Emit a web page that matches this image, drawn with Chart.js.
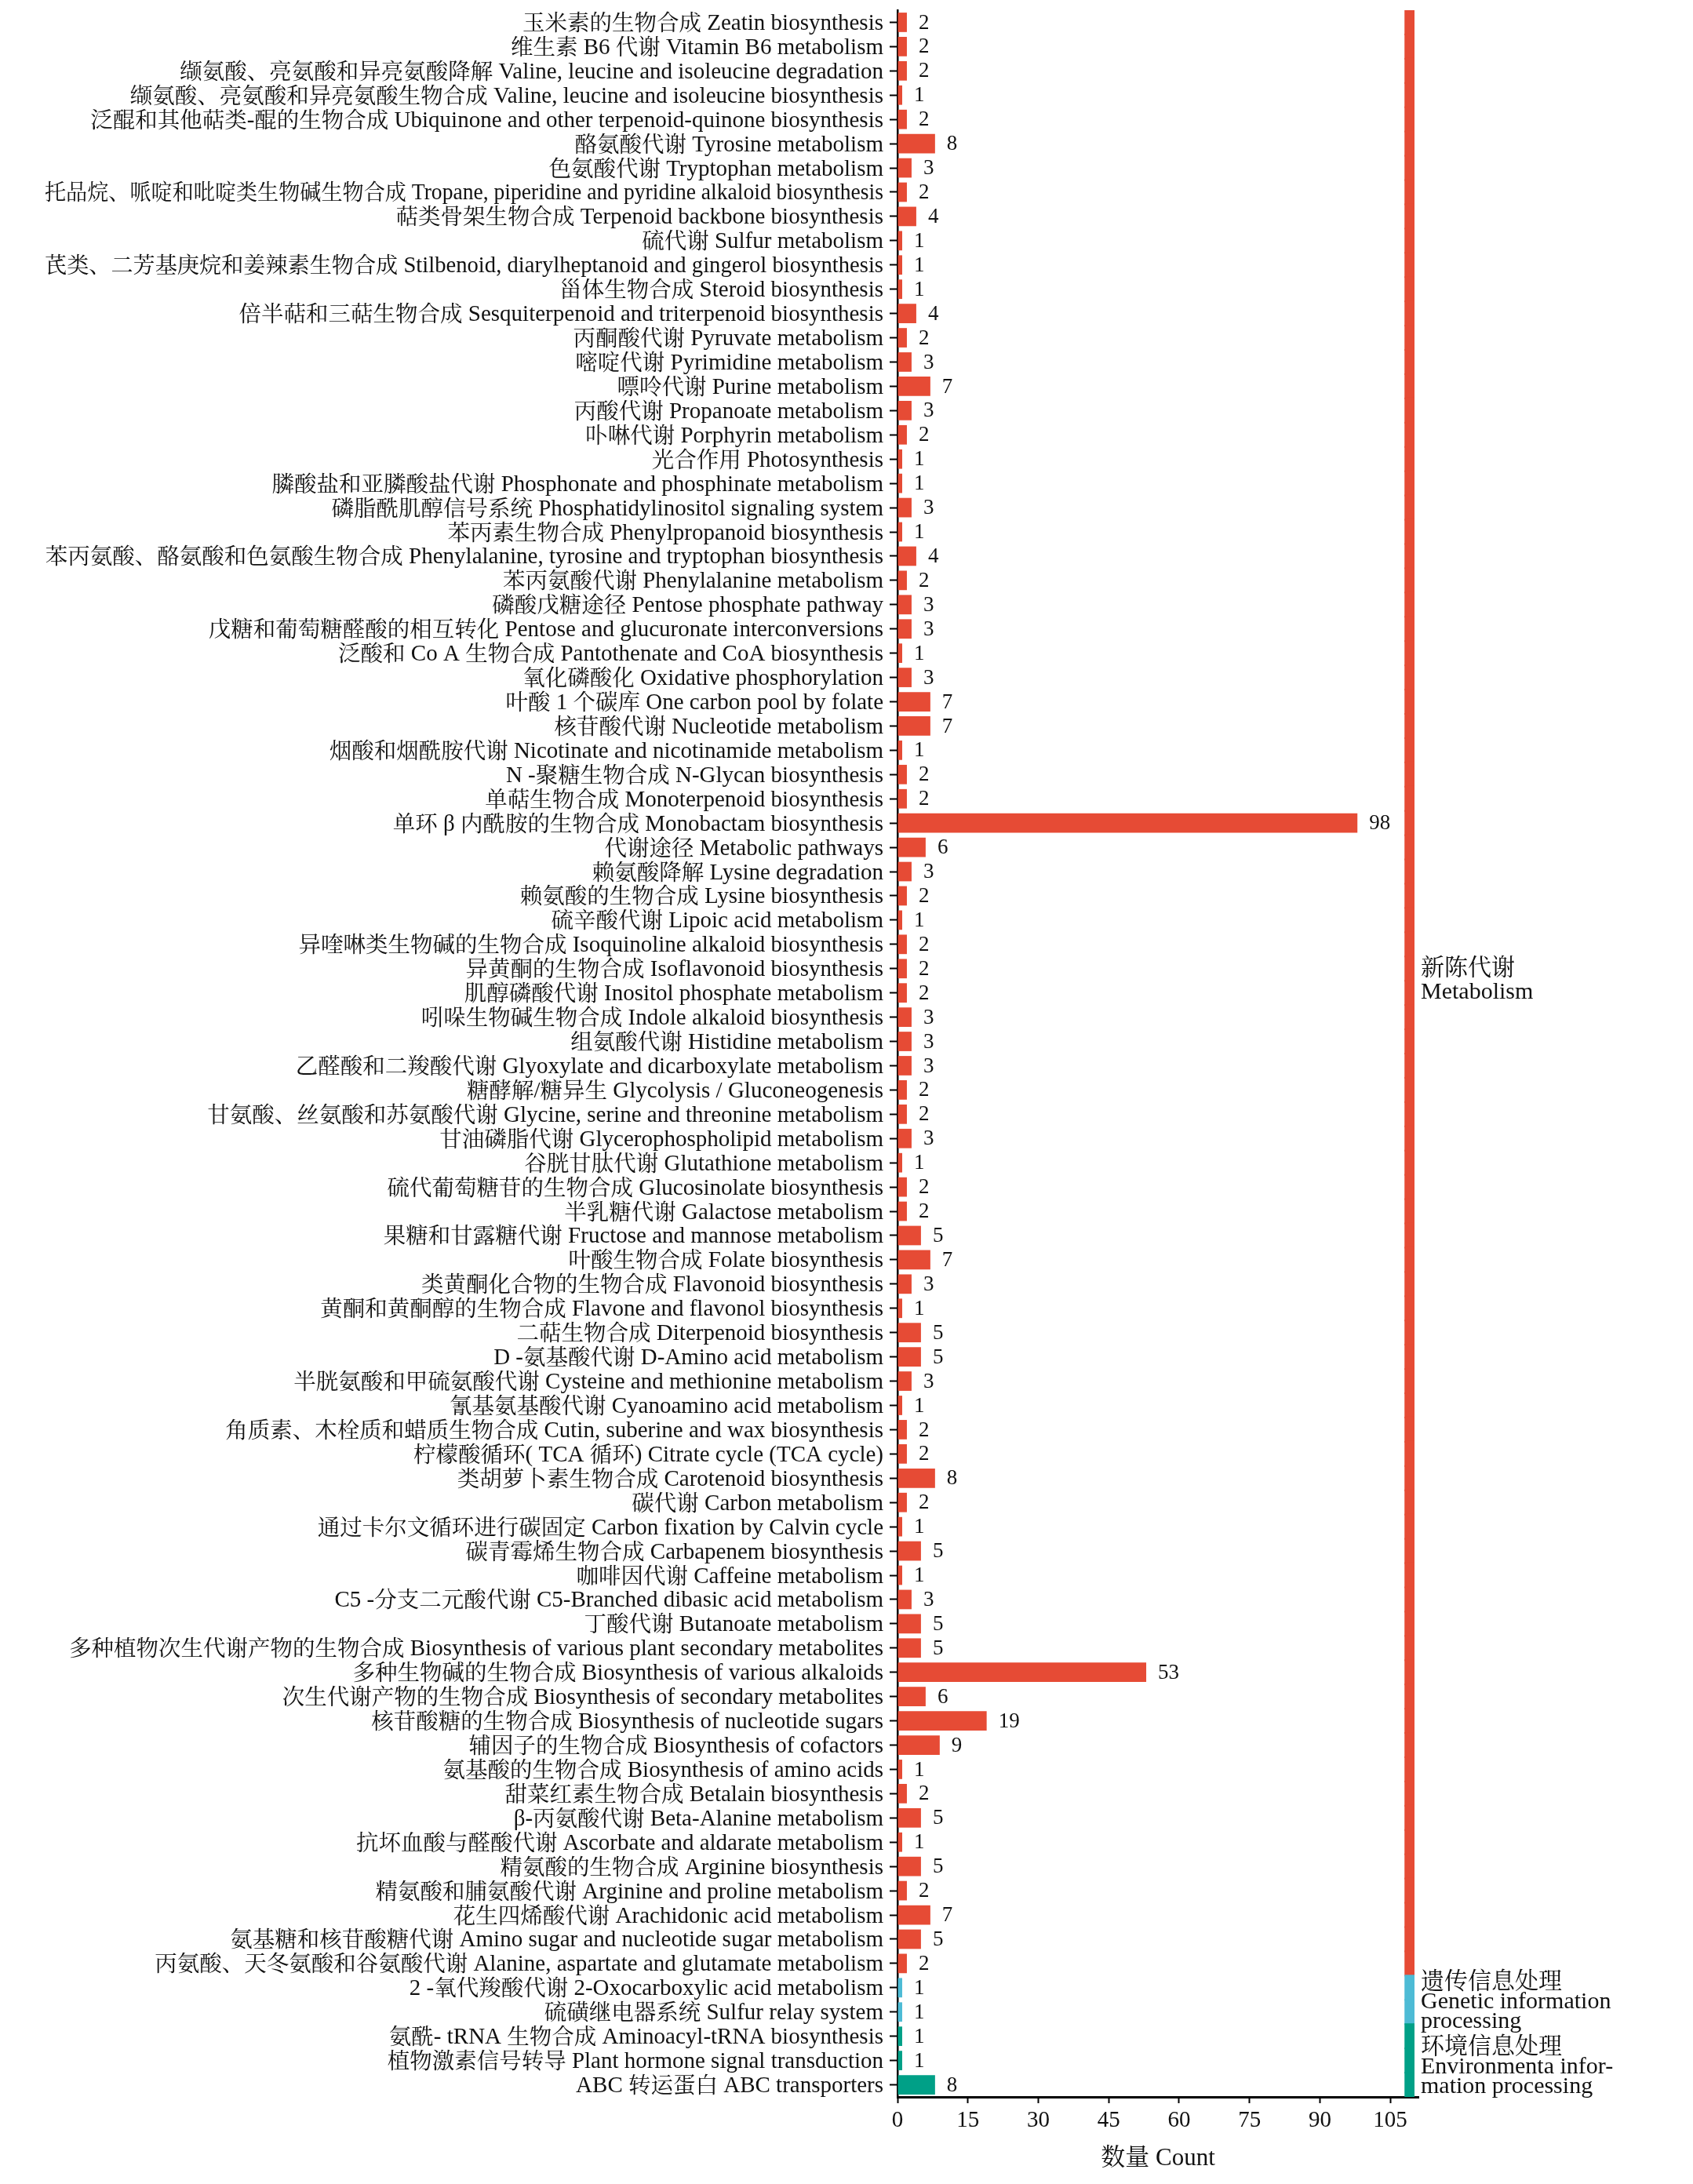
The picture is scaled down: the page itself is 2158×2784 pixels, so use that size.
<!DOCTYPE html>
<html><head><meta charset="utf-8">
<script src="https://cdn.jsdelivr.net/npm/chart.js@4.4.1/dist/chart.umd.min.js"></script>
<style>html,body{margin:0;padding:0;background:#fff;}canvas{display:block;}</style>
</head><body>
<canvas id="c" width="2158" height="2784" style="width:2158px;height:2784px"></canvas>
<script>
const categories = [
"玉米素的生物合成 Zeatin biosynthesis",
"维生素 B6 代谢 Vitamin B6 metabolism",
"缬氨酸、亮氨酸和异亮氨酸降解 Valine, leucine and isoleucine degradation",
"缬氨酸、亮氨酸和异亮氨酸生物合成 Valine, leucine and isoleucine biosynthesis",
"泛醌和其他萜类-醌的生物合成 Ubiquinone and other terpenoid-quinone biosynthesis",
"酪氨酸代谢 Tyrosine metabolism",
"色氨酸代谢 Tryptophan metabolism",
"托品烷、哌啶和吡啶类生物碱生物合成 Tropane, piperidine and pyridine alkaloid biosynthesis",
"萜类骨架生物合成 Terpenoid backbone biosynthesis",
"硫代谢 Sulfur metabolism",
"芪类、二芳基庚烷和姜辣素生物合成 Stilbenoid, diarylheptanoid and gingerol biosynthesis",
"甾体生物合成 Steroid biosynthesis",
"倍半萜和三萜生物合成 Sesquiterpenoid and triterpenoid biosynthesis",
"丙酮酸代谢 Pyruvate metabolism",
"嘧啶代谢 Pyrimidine metabolism",
"嘌呤代谢 Purine metabolism",
"丙酸代谢 Propanoate metabolism",
"卟啉代谢 Porphyrin metabolism",
"光合作用 Photosynthesis",
"膦酸盐和亚膦酸盐代谢 Phosphonate and phosphinate metabolism",
"磷脂酰肌醇信号系统 Phosphatidylinositol signaling system",
"苯丙素生物合成 Phenylpropanoid biosynthesis",
"苯丙氨酸、酪氨酸和色氨酸生物合成 Phenylalanine, tyrosine and tryptophan biosynthesis",
"苯丙氨酸代谢 Phenylalanine metabolism",
"磷酸戊糖途径 Pentose phosphate pathway",
"戊糖和葡萄糖醛酸的相互转化 Pentose and glucuronate interconversions",
"泛酸和 Co A 生物合成 Pantothenate and CoA biosynthesis",
"氧化磷酸化 Oxidative phosphorylation",
"叶酸 1 个碳库 One carbon pool by folate",
"核苷酸代谢 Nucleotide metabolism",
"烟酸和烟酰胺代谢 Nicotinate and nicotinamide metabolism",
"N -聚糖生物合成 N-Glycan biosynthesis",
"单萜生物合成 Monoterpenoid biosynthesis",
"单环 β 内酰胺的生物合成 Monobactam biosynthesis",
"代谢途径 Metabolic pathways",
"赖氨酸降解 Lysine degradation",
"赖氨酸的生物合成 Lysine biosynthesis",
"硫辛酸代谢 Lipoic acid metabolism",
"异喹啉类生物碱的生物合成 Isoquinoline alkaloid biosynthesis",
"异黄酮的生物合成 Isoflavonoid biosynthesis",
"肌醇磷酸代谢 Inositol phosphate metabolism",
"吲哚生物碱生物合成 Indole alkaloid biosynthesis",
"组氨酸代谢 Histidine metabolism",
"乙醛酸和二羧酸代谢 Glyoxylate and dicarboxylate metabolism",
"糖酵解/糖异生 Glycolysis / Gluconeogenesis",
"甘氨酸、丝氨酸和苏氨酸代谢 Glycine, serine and threonine metabolism",
"甘油磷脂代谢 Glycerophospholipid metabolism",
"谷胱甘肽代谢 Glutathione metabolism",
"硫代葡萄糖苷的生物合成 Glucosinolate biosynthesis",
"半乳糖代谢 Galactose metabolism",
"果糖和甘露糖代谢 Fructose and mannose metabolism",
"叶酸生物合成 Folate biosynthesis",
"类黄酮化合物的生物合成 Flavonoid biosynthesis",
"黄酮和黄酮醇的生物合成 Flavone and flavonol biosynthesis",
"二萜生物合成 Diterpenoid biosynthesis",
"D -氨基酸代谢 D-Amino acid metabolism",
"半胱氨酸和甲硫氨酸代谢 Cysteine and methionine metabolism",
"氰基氨基酸代谢 Cyanoamino acid metabolism",
"角质素、木栓质和蜡质生物合成 Cutin, suberine and wax biosynthesis",
"柠檬酸循环( TCA 循环) Citrate cycle (TCA cycle)",
"类胡萝卜素生物合成 Carotenoid biosynthesis",
"碳代谢 Carbon metabolism",
"通过卡尔文循环进行碳固定 Carbon fixation by Calvin cycle",
"碳青霉烯生物合成 Carbapenem biosynthesis",
"咖啡因代谢 Caffeine metabolism",
"C5 -分支二元酸代谢 C5-Branched dibasic acid metabolism",
"丁酸代谢 Butanoate metabolism",
"多种植物次生代谢产物的生物合成 Biosynthesis of various plant secondary metabolites",
"多种生物碱的生物合成 Biosynthesis of various alkaloids",
"次生代谢产物的生物合成 Biosynthesis of secondary metabolites",
"核苷酸糖的生物合成 Biosynthesis of nucleotide sugars",
"辅因子的生物合成 Biosynthesis of cofactors",
"氨基酸的生物合成 Biosynthesis of amino acids",
"甜菜红素生物合成 Betalain biosynthesis",
"β-丙氨酸代谢 Beta-Alanine metabolism",
"抗坏血酸与醛酸代谢 Ascorbate and aldarate metabolism",
"精氨酸的生物合成 Arginine biosynthesis",
"精氨酸和脯氨酸代谢 Arginine and proline metabolism",
"花生四烯酸代谢 Arachidonic acid metabolism",
"氨基糖和核苷酸糖代谢 Amino sugar and nucleotide sugar metabolism",
"丙氨酸、天冬氨酸和谷氨酸代谢 Alanine, aspartate and glutamate metabolism",
"2 -氧代羧酸代谢 2-Oxocarboxylic acid metabolism",
"硫磺继电器系统 Sulfur relay system",
"氨酰- tRNA 生物合成 Aminoacyl-tRNA biosynthesis",
"植物激素信号转导 Plant hormone signal transduction",
"ABC 转运蛋白 ABC transporters"
];
const counts = [
2,2,2,1,2,8,3,2,4,1,
1,1,4,2,3,7,3,2,1,1,
3,1,4,2,3,3,1,3,7,7,
1,2,2,98,6,3,2,1,2,2,
2,3,3,3,2,2,3,1,2,2,
5,7,3,1,5,5,3,1,2,2,
8,2,1,5,1,3,5,5,53,6,
19,9,1,2,5,1,5,2,7,5,
2,1,1,1,1,8
];
const groups = [
"M","M","M","M","M","M","M","M","M","M",
"M","M","M","M","M","M","M","M","M","M",
"M","M","M","M","M","M","M","M","M","M",
"M","M","M","M","M","M","M","M","M","M",
"M","M","M","M","M","M","M","M","M","M",
"M","M","M","M","M","M","M","M","M","M",
"M","M","M","M","M","M","M","M","M","M",
"M","M","M","M","M","M","M","M","M","M",
"M","G","G","E","E","E"
];
const groupOrder = ["M","G","E"];
const groupLabels = {
  M: ["新陈代谢","Metabolism"],
  G: ["遗传信息处理","Genetic information","processing"],
  E: ["环境信息处理","Environmenta infor-","mation processing"]
};
const xTickValues = [0,15,30,45,60,75,90,105];
const xMax = 111;
const stripRange = [108.2, 110];

const groupColors = {M:"#E64B35", G:"#4DBBD5", E:"#00A087"};
const FONT = '"Liberation Serif", "Times New Roman", "Noto Serif CJK SC", "Noto Sans CJK SC", serif';
const CJK_FONT = '"Noto Serif CJK SC", "Noto Sans CJK SC", serif';
const LAT_PX = 29, CJK_PX = 28.5, LABEL_MAX_W = 1069;
const labelStyle = {
  M: {lineHeight: 30, offset: -16},
  G: {lineHeight: 25, offset: 3},
  E: {lineHeight: 25, offset: 9}
};

function splitRuns(s) {
  const runs = [];
  const re = /[\u3000-\u9fff\uff00-\uffef]/;
  for (const ch of s) {
    const cjk = re.test(ch);
    if (runs.length && runs[runs.length - 1].cjk === cjk) runs[runs.length - 1].t += ch;
    else runs.push({t: ch, cjk});
  }
  return runs;
}

const yLabels = {
  id: 'yLabels',
  afterDraw(chart) {
    const y = chart.scales.y;
    const ctx = chart.ctx;
    const right = chart.chartArea.left - 10 - 8;
    ctx.save();
    ctx.fillStyle = '#111';
    ctx.textAlign = 'left';
    ctx.textBaseline = 'alphabetic';
    categories.forEach((lab, i) => {
      const py = y.getPixelForValue(i);
      const runs = splitRuns(lab);
      let total = 0;
      runs.forEach(r => {
        ctx.font = r.cjk ? (CJK_PX + 'px ' + CJK_FONT) : (LAT_PX + 'px ' + FONT);
        r.w = ctx.measureText(r.t).width;
        total += r.w;
      });
      const sc = Math.min(1, LABEL_MAX_W / total);
      ctx.save();
      ctx.translate(right - total * sc, 0);
      ctx.scale(sc, 1);
      let x = 0;
      runs.forEach(r => {
        ctx.font = r.cjk ? (CJK_PX + 'px ' + CJK_FONT) : (LAT_PX + 'px ' + FONT);
        ctx.fillText(r.t, x, py + (r.cjk ? 10.5 : 9.5));
        x += r.w;
      });
      ctx.restore();
    });
    ctx.restore();
  }
};

const valueLabels = {
  id: 'valueLabels',
  afterDatasetsDraw(chart) {
    const meta = chart.getDatasetMeta(0);
    const ctx = chart.ctx;
    ctx.save();
    ctx.font = '27px ' + FONT;
    ctx.fillStyle = '#111';
    ctx.textAlign = 'left';
    ctx.textBaseline = 'middle';
    meta.data.forEach((bar, i) => {
      ctx.fillText(String(counts[i]), bar.x + 15, bar.y + 1);
    });
    ctx.restore();
  }
};

const groupText = {
  id: 'groupText',
  afterDraw(chart) {
    const y = chart.scales.y;
    const ctx = chart.ctx;
    const half = (y.getPixelForValue(1) - y.getPixelForValue(0)) / 2;
    ctx.save();
    ctx.font = '30px ' + FONT;
    ctx.fillStyle = '#111';
    ctx.textAlign = 'left';
    ctx.textBaseline = 'middle';
    groupOrder.forEach(g => {
      const first = groups.indexOf(g), last = groups.lastIndexOf(g);
      const top = y.getPixelForValue(first) - half;
      const bottom = y.getPixelForValue(last) + half;
      const st = labelStyle[g];
      const lines = groupLabels[g];
      const center = (top + bottom) / 2 + st.offset;
      const start = center - (lines.length - 1) * st.lineHeight / 2;
      lines.forEach((t, k) => ctx.fillText(t, chart.chartArea.right + 3, start + k * st.lineHeight));
    });
    ctx.restore();
  }
};

new Chart(document.getElementById('c'), {
  type: 'bar',
  data: {
    labels: categories,
    datasets: [
      {
        data: counts,
        backgroundColor: groups.map(g => groupColors[g]),
        barPercentage: 0.8,
        categoryPercentage: 1,
        grouped: false,
        borderWidth: 0
      },
      {
        data: categories.map(() => stripRange.slice()),
        backgroundColor: groups.map(g => groupColors[g]),
        barPercentage: 1,
        categoryPercentage: 1,
        grouped: false,
        borderWidth: 0,
        inflateAmount: 1
      }
    ]
  },
  options: {
    indexAxis: 'y',
    responsive: false,
    animation: false,
    devicePixelRatio: 1,
    layout: {padding: {left: 0, right: 350, top: 13, bottom: 0}},
    plugins: {legend: {display: false}, tooltip: {enabled: false}},
    scales: {
      x: {
        type: 'linear',
        min: 0,
        max: xMax,
        afterBuildTicks(scale) { scale.ticks = xTickValues.map(v => ({value: v})); },
        afterFit(scale) { scale.height = 111; scale.paddingLeft = 0; scale.paddingRight = 0; },
        ticks: {font: {family: FONT, size: 29}, color: '#111', padding: 5, maxRotation: 0},
        grid: {drawOnChartArea: false, drawTicks: true, tickLength: 8, color: '#000', tickWidth: 2},
        border: {display: true, color: '#000', width: 3},
        title: {display: true, text: '数量 Count', font: {family: FONT, size: 31}, color: '#111', padding: {top: 0, bottom: 14}}
      },
      y: {
        type: 'category',
        afterFit(scale) { scale.width = 1144; scale.paddingTop = 0; scale.paddingBottom = 0; },
        ticks: {display: false, autoSkip: false},
        grid: {drawOnChartArea: false, drawTicks: true, tickLength: 10, color: '#000', tickWidth: 2, offset: false},
        border: {display: true, color: '#000', width: 2.5}
      }
    }
  },
  plugins: [yLabels, valueLabels, groupText]
});
</script>
</body></html>
